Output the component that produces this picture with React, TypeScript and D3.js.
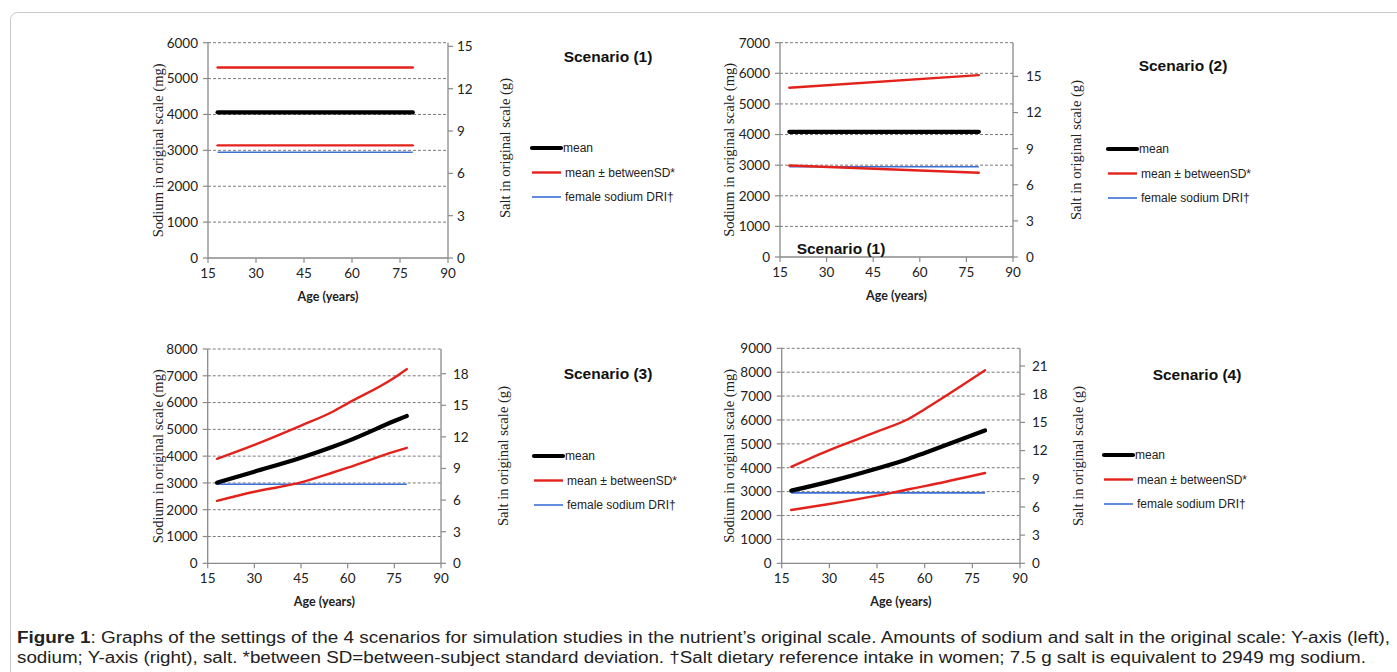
import React from 'react';
import * as d3 from 'd3';

// ---------- data ----------
const ageTicks = [15, 30, 45, 60, 75, 90];
const sodiumPerGramSalt = 2949 / 7.5;
const driAges = [18, 79];
const driSodium = [2949, 2949];
const legendLabels = ['mean', 'mean \u00b1 betweenSD*', 'female sodium DRI\u2020'];
const scenarioTitles = ['Scenario (1)', 'Scenario (2)', 'Scenario (3)', 'Scenario (4)'];
const sodiumMax = [6000, 7000, 8000, 9000];
const saltTickMax = [15, 15, 18, 21];

const ages1 = [18, 79];
const mean1 = [4060, 4060];
const upper1 = [5310, 5310];
const lower1 = [3140, 3140];

const ages2 = [18, 79];
const mean2 = [4090, 4090];
const upper2 = [5530, 5940];
const lower2 = [2990, 2750];

const ages3 = [18, 30, 45, 55, 60, 75, 79];
const mean3 = [3010, 3420, 3940, 4340, 4560, 5310, 5500];
const upper3 = [3900, 4420, 5140, 5650, 5970, 6930, 7250];
const lower3 = [2330, 2670, 3020, 3380, 3570, 4170, 4310];

const ages4 = [18, 30, 45, 55, 60, 79];
const mean4 = [3040, 3420, 3970, 4380, 4620, 5560];
const upper4 = [4040, 4740, 5510, 6050, 6450, 8080];
const lower4 = [2230, 2480, 2830, 3100, 3230, 3780];

const captionBold = 'Figure 1';
const captionLine1 = ": Graphs of the settings of the 4 scenarios for simulation studies in the nutrient\u2019s original scale. Amounts of sodium and salt in the original scale: Y-axis (left),";
const captionLine2 = 'sodium; Y-axis (right), salt. *between SD=between-subject standard deviation. \u2020Salt dietary reference intake in women; 7.5 g salt is equivalent to 2949 mg sodium.';

// ---------- layout ----------
const layouts = [
  { x0: 208, x1: 448, yTop: 42.7, yBot: 258, leftTitleX: 158, rightTitleX: 505, rightTitleY: 148, titleX: 608, titleY: 62, legendX: 532, legendY: 148, rGap: 9 },
  { x0: 780, x1: 1013, yTop: 42.7, yBot: 257, leftTitleX: 729, rightTitleX: 1076, rightTitleY: 150, titleX: 1183, titleY: 71, legendX: 1108, legendY: 149, rGap: 13 },
  { x0: 207.7, x1: 441, yTop: 349, yBot: 563.3, leftTitleX: 158, rightTitleX: 503, rightTitleY: 456, titleX: 608, titleY: 379, legendX: 534, legendY: 456, rGap: 12 },
  { x0: 781.7, x1: 1020, yTop: 348.3, yBot: 563.3, leftTitleX: 729, rightTitleX: 1078, rightTitleY: 456, titleX: 1197, titleY: 380, legendX: 1104, legendY: 455, rGap: 12 },
];

const seriesData = [
  { ages: ages1, mean: mean1, upper: upper1, lower: lower1 },
  { ages: ages2, mean: mean2, upper: upper2, lower: lower2 },
  { ages: ages3, mean: mean3, upper: upper3, lower: lower3 },
  { ages: ages4, mean: mean4, upper: upper4, lower: lower4 },
];

const TICK_FONT = "Lato, 'Open Sans', sans-serif";
const SERIF = "'Liberation Serif', 'Times New Roman', 'DejaVu Serif', serif";
const SANS = "'Liberation Sans', Arial, sans-serif";
const AXIS = '#8a8a8a';
const GRID = '#7a7a7a';
const RED = '#e3221c';
const BLUE = '#3b6fd6';

function Panel({ i }: { i: number }) {
  const L = layouts[i];
  const S = seriesData[i];
  const x = d3.scaleLinear().domain([15, 90]).range([L.x0, L.x1]);
  const y = d3.scaleLinear().domain([0, sodiumMax[i]]).range([L.yBot, L.yTop]);
  const sodiumTicks = d3.range(0, sodiumMax[i] + 1, 1000);
  const saltTicks = d3.range(0, saltTickMax[i] + 0.01, 3);
  const line = d3
    .line<[number, number]>()
    .x((d) => x(d[0]))
    .y((d) => y(d[1]))
    .curve(d3.curveMonotoneX);
  const pts = (a: number[], v: number[]) => a.map((ag, k) => [ag, v[k]] as [number, number]);
  const midY = (L.yTop + L.yBot) / 2;
  return (
    <g>
      {sodiumTicks.filter((t) => t > 0).map((t) => (
        <line key={'g' + t} x1={L.x0} x2={L.x1} y1={y(t)} y2={y(t)} stroke={GRID} strokeWidth={1} strokeDasharray="3,2" />
      ))}
      <line x1={L.x0} x2={L.x0} y1={L.yTop} y2={L.yBot} stroke={AXIS} strokeWidth={1.3} />
      <line x1={L.x1} x2={L.x1} y1={L.yTop} y2={L.yBot} stroke={AXIS} strokeWidth={1.3} />
      <line x1={L.x0} x2={L.x1} y1={L.yBot} y2={L.yBot} stroke={AXIS} strokeWidth={1.3} />
      {sodiumTicks.map((t) => (
        <g key={'l' + t}>
          <line x1={L.x0 - 5} x2={L.x0} y1={y(t)} y2={y(t)} stroke={AXIS} strokeWidth={1.2} />
          <text x={L.x0 - 10} y={y(t)} dy="0.36em" textAnchor="end" fontFamily={TICK_FONT} fontSize={13.5} fill="#222">{t}</text>
        </g>
      ))}
      {saltTicks.map((t) => (
        <g key={'r' + t}>
          <line x1={L.x1} x2={L.x1 + 5} y1={y(t * sodiumPerGramSalt)} y2={y(t * sodiumPerGramSalt)} stroke={AXIS} strokeWidth={1.2} />
          <text x={L.x1 + L.rGap} y={y(t * sodiumPerGramSalt)} dy="0.36em" textAnchor="start" fontFamily={TICK_FONT} fontSize={13.5} fill="#222">{t}</text>
        </g>
      ))}
      {ageTicks.map((t) => (
        <g key={'x' + t}>
          <line x1={x(t)} x2={x(t)} y1={L.yBot} y2={L.yBot + 5} stroke={AXIS} strokeWidth={1.2} />
          <text x={x(t)} y={L.yBot + 20} textAnchor="middle" fontFamily={TICK_FONT} fontSize={13.5} fill="#222">{t}</text>
        </g>
      ))}
      <text x={(L.x0 + L.x1) / 2} y={L.yBot + 43} textAnchor="middle" fontFamily={TICK_FONT} fontWeight="bold" fontSize={12.5} fill="#222">Age (years)</text>
      <text transform={`translate(${L.leftTitleX},${midY}) rotate(-90)`} dy="0.35em" textAnchor="middle" fontFamily={SERIF} fontSize={14} fill="#222" textLength={174} lengthAdjust="spacingAndGlyphs">Sodium in original scale (mg)</text>
      <text transform={`translate(${L.rightTitleX},${L.rightTitleY}) rotate(-90)`} dy="0.35em" textAnchor="middle" fontFamily={SERIF} fontSize={14} fill="#222" textLength={140} lengthAdjust="spacingAndGlyphs">Salt in original scale (g)</text>
      <path d={line(pts(driAges, driSodium)) || ''} fill="none" stroke={BLUE} strokeWidth={1.6} />
      <path d={line(pts(S.ages, S.lower)) || ''} fill="none" stroke={RED} strokeWidth={2.4} strokeLinecap="round" />
      <path d={line(pts(S.ages, S.upper)) || ''} fill="none" stroke={RED} strokeWidth={2.4} strokeLinecap="round" />
      <path d={line(pts(S.ages, S.mean)) || ''} fill="none" stroke="#000" strokeWidth={4.2} strokeLinecap="round" />
      <text x={L.titleX} y={L.titleY} textAnchor="middle" fontFamily={SANS} fontWeight="bold" fontSize={15.5} fill="#111">{scenarioTitles[i]}</text>
      {legendLabels.map((lab, k) => {
        const ly = L.legendY + k * 24.5;
        const sw = k === 0 ? 4.2 : k === 1 ? 2.4 : 1.6;
        const col = k === 0 ? '#000' : k === 1 ? RED : BLUE;
        return (
          <g key={'lg' + k}>
            <line x1={L.legendX} x2={L.legendX + 29} y1={ly} y2={ly} stroke={col} strokeWidth={sw} strokeLinecap={k === 0 ? 'round' : 'butt'} />
            <text x={L.legendX + (k === 0 ? 31 : 33)} y={ly} dy="0.36em" fontFamily={SANS} fontSize={12} fill="#222">{lab}</text>
          </g>
        );
      })}
    </g>
  );
}

export default function App() {
  return (
    <svg width={1397} height={672} style={{ position: 'absolute', left: 0, top: 0, background: '#fff' }}>
      <rect x={10.5} y={12.5} width={1420} height={700} rx={7} fill="none" stroke="#c9c9c9" strokeWidth={1} />
      {[0, 1, 2, 3].map((i) => (
        <Panel key={i} i={i} />
      ))}
      <text x={841} y={254} textAnchor="middle" fontFamily={SANS} fontWeight="bold" fontSize={15.5} fill="#111">{scenarioTitles[0]}</text>
      <text x={17} y={643} fontFamily={SANS} fontSize={16} fill="#222" textLength={1373} lengthAdjust="spacingAndGlyphs">
        <tspan fontWeight="bold">{captionBold}</tspan>
        <tspan>{captionLine1}</tspan>
      </text>
      <text x={17} y={663} fontFamily={SANS} fontSize={16} fill="#222" textLength={1349} lengthAdjust="spacingAndGlyphs">{captionLine2}</text>
    </svg>
  );
}
